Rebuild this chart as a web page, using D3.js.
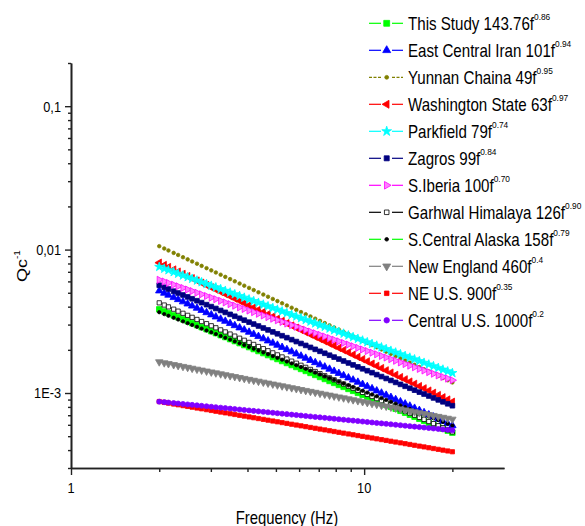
<!DOCTYPE html>
<html><head><meta charset="utf-8">
<script src="https://cdn.jsdelivr.net/npm/d3@7"></script>
<style>
body{margin:0;background:#fff}
svg{display:block}
text{font-family:"Liberation Sans",Arial,sans-serif;fill:#000}
</style>
</head><body>
<svg id="chart" width="585" height="526"></svg>
<script>
// ---- data ----
const freqs = [2.00,2.08,2.15,2.24,2.32,2.41,2.50,2.59,2.69,2.79,2.90,3.01,3.12,3.24,3.36,3.49,3.62,3.76,3.90,4.05,
  4.20,4.36,4.53,4.70,4.88,5.06,5.25,5.45,5.66,5.87,6.09,6.32,6.56,6.81,7.07,7.34,7.62,7.90,8.20,8.51,
  8.84,9.17,9.52,9.88,10.25,10.64,11.04,11.46,11.89,12.34,12.81,13.30,13.80,14.32,14.86,15.43,16.01,16.62,17.24,17.90,
  18.57,19.28,20.00];
const seriesNames = ["This Study","East Central Iran","Yunnan Chaina","Washington State","Parkfield","Zagros",
  "S.Iberia","Garhwal Himalaya","S.Central Alaska","New England","NE U.S.","Central U.S."];
const q0Values = [143.76,101,49,63,79,99,100,126,158,460,900,1000];
const q0Labels = ["143.76","101","49","63","79","99","100","126","158","460","900","1000"];
const exponents = [0.86,0.94,0.95,0.97,0.74,0.84,0.70,0.90,0.79,0.4,0.35,0.2];
const exponentLabels = ["0.86","0.94","0.95","0.97","0.74","0.84","0.70","0.90","0.79","0.4","0.35","0.2"];
const xMajorTicks = [1,10];
const xTickLabels = ["1","10"];
const xMinorTicks = [2,3,4,5,6,7,8,9,20];
const yMajorTicks = [0.1,0.01,0.001];
const yTickLabels = ["0,1","0,01","1E-3"];
const xTitle = "Frequency (Hz)";

// ---- styles ----
const lineColors = ["#00ff00","#0000ff","#808000","#ff0000","#00ffff","#000080","#ff00ff","#000000","#00ff00","#808080","#ff0000","#8000ff"];
const markerFill = ["#00ff00","#0000ff","#808000","#ff0000","#00ffff","#000080","#ff80ff","#ffffff","#000000","#808080","#ff0000","#8000ff"];
const markerStroke = ["#00ff00","#0000ff","#808000","#ff0000","#00ffff","#000080","#ff00ff","#000000","#000000","#808080","#ff0000","#8000ff"];
const markerShape = ["square","triUp","circle","triLeft","star","square","triRight","square","circle","triDown","square","circle"];
const markerArea = [30,24,10,24,26,22,22,18,9,24,18,20];
const lineDash = [null,null,"3,1.5",null,null,null,null,null,null,null,null,null];

const svg = d3.select("#chart");
const SX = 0.85; // horizontal squeeze of the original lettering

const x = d3.scaleLog().domain([1,30]).range([71,504]);
const y = d3.scaleLog().domain([3e-4,0.2]).range([468,63]);

const series = seriesNames.map((name,i)=>({
  name, i,
  pts: freqs.map(f=>({f, v: 1/(q0Values[i]*Math.pow(f, exponents[i]))}))
}));

function symbolPath(shape, area){
  let type = d3.symbolSquare, rot = 0;
  if(shape==="circle") type = d3.symbolCircle;
  if(shape==="star") type = d3.symbolStar;
  if(shape.startsWith("tri")){ type = d3.symbolTriangle;
    rot = shape==="triUp"?0: shape==="triDown"?180: shape==="triLeft"?-90:90; }
  return {d: d3.symbol().type(type).size(area)(), rot};
}

// ---- data markers ----
const plot = svg.append("g");
series.forEach(s=>{
  const g = plot.append("g");
  const sp = symbolPath(markerShape[s.i], markerArea[s.i]);
  g.selectAll("path.m").data(s.pts).enter().append("path").attr("class","m")
    .attr("d", sp.d)
    .attr("transform", d=>`translate(${x(d.f)},${y(d.v)}) rotate(${sp.rot})`)
    .attr("fill", markerFill[s.i]).attr("stroke", markerStroke[s.i]).attr("stroke-width",0.8);
});

// ---- axes ----
const axisColor = "#222";
function styleAxis(g){ g.selectAll("path.domain").attr("stroke",axisColor).attr("stroke-width",1.6);
  g.selectAll(".tick line").attr("stroke",axisColor).attr("stroke-width",1.4);
  g.selectAll(".tick text").remove(); }

const yMinor = [];
[-4,-3,-2,-1].forEach(e=>{ for(let m=2;m<=9;m++){ const v=m*Math.pow(10,e); if(v>=3e-4-1e-12 && v<=0.2+1e-12) yMinor.push(v);} });

svg.append("g").attr("transform","translate(71,0)")
  .call(d3.axisLeft(y).tickValues(yMinor).tickSize(3).tickSizeOuter(0).tickFormat(""))
  .call(styleAxis);
svg.append("g").attr("transform","translate(71,0)")
  .call(d3.axisLeft(y).tickValues(yMajorTicks).tickSize(6).tickSizeOuter(0).tickFormat(""))
  .call(styleAxis);
svg.append("g").attr("transform","translate(0,468)")
  .call(d3.axisBottom(x).tickValues(xMinorTicks).tickSize(4).tickSizeOuter(0).tickFormat(""))
  .call(styleAxis);
svg.append("g").attr("transform","translate(0,468)")
  .call(d3.axisBottom(x).tickValues(xMajorTicks).tickSize(7).tickSizeOuter(0).tickFormat(""))
  .call(styleAxis);

// tick labels
yMajorTicks.forEach((v,k)=>{
  svg.append("text").attr("transform",`translate(61,${y(v)}) scale(${SX},1)`)
    .attr("text-anchor","end").attr("dy","0.36em").attr("font-size",15).text(yTickLabels[k]);
});
xMajorTicks.forEach((v,k)=>{
  svg.append("text").attr("transform",`translate(${x(v)},493) scale(${SX},1)`)
    .attr("text-anchor","middle").attr("font-size",15).text(xTickLabels[k]);
});

// axis titles
svg.append("text").attr("transform",`translate(287,524) scale(${SX},1)`)
  .attr("text-anchor","middle").attr("font-size",17.5).text(xTitle);
const yt = svg.append("text").attr("transform",`translate(27,266) rotate(-90) scale(1,${SX})`)
  .attr("text-anchor","middle").attr("font-size",18);
yt.append("tspan").text("Qc");
yt.append("tspan").attr("dy",-8).attr("font-size",10).text("-1");

// ---- legend ----
const leg = svg.append("g");
series.forEach(s=>{
  const cy = 23.3 + 27*s.i;
  const g = leg.append("g");
  g.append("line").attr("x1",369).attr("x2",381).attr("y1",cy).attr("y2",cy)
    .attr("stroke",lineColors[s.i]).attr("stroke-width",1.2).attr("stroke-dasharray",lineDash[s.i]);
  g.append("line").attr("x1",392).attr("x2",403).attr("y1",cy).attr("y2",cy)
    .attr("stroke",lineColors[s.i]).attr("stroke-width",1.2).attr("stroke-dasharray",lineDash[s.i]);
  const sp = symbolPath(markerShape[s.i], markerArea[s.i]*1.15);
  g.append("path").attr("d",sp.d).attr("transform",`translate(386.7,${cy}) rotate(${sp.rot})`)
    .attr("fill",markerFill[s.i]).attr("stroke",markerStroke[s.i]).attr("stroke-width",0.8);
  const t = g.append("text").attr("transform",`translate(408,${cy+6.3}) scale(${SX},1)`)
    .attr("font-size",17.8);
  t.append("tspan").text(`${s.name} ${q0Labels[s.i]}f`);
  t.append("tspan").attr("dy",-10).attr("font-size",9.8).text(exponentLabels[s.i]);
});
</script>
</body></html>
